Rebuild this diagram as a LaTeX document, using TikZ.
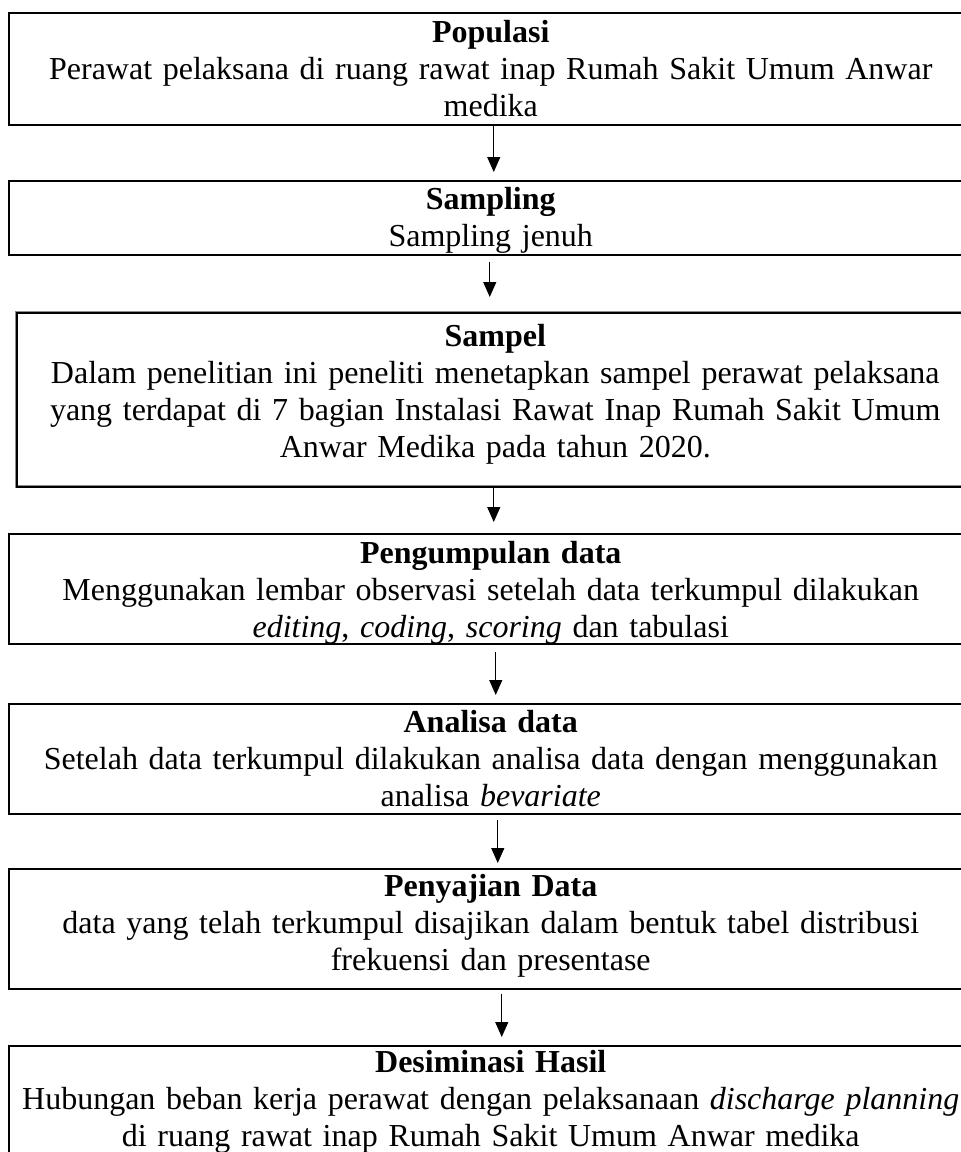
\documentclass[tikz,border=0pt]{standalone}
\usepackage{fontspec}
\setmainfont{Liberation Serif}
\usetikzlibrary{arrows.meta}
\begin{document}
\begin{tikzpicture}[x=0.5pt,y=-0.5pt,
  box/.style={draw, line width=0.75pt, inner xsep=0pt, inner ysep=0pt,
    text width=482pt, align=center, anchor=north west,
    font=\fontsize{16}{18.4}\selectfont},
  shadowbox/.style={box, text width=478.5pt,
    preaction={draw=black!45, line width=1.6pt}},
  arr/.style={line width=0.6pt, -{Triangle[length=7.5pt,width=6.5pt]}}]
\useasboundingbox (0,0) rectangle (961,1152);
\clip (0,0) rectangle (961,1152);

\node[box, text height=15pt, text depth=41pt] (b1) at (8,12)
  {\textbf{Populasi}\\Perawat pelaksana di ruang rawat inap Rumah Sakit Umum Anwar\\medika};
\node[box, text height=14.5pt, text depth=22.5pt] (b2) at (8,180)
  {\textbf{Sampling}\\Sampling jenuh};
\node[shadowbox, text height=17pt, text depth=70pt] (b3) at (16,312)
  {\textbf{Sampel}\\Dalam penelitian ini peneliti menetapkan sampel perawat pelaksana\\yang terdapat di 7 bagian Instalasi Rawat Inap Rumah Sakit Umum\\Anwar Medika pada tahun 2020.};
\node[box, text height=15pt, text depth=40pt] (b4) at (8,533)
  {\textbf{Pengumpulan data}\\Menggunakan lembar observasi setelah data terkumpul dilakukan\\\textit{editing}, \textit{coding}, \textit{scoring} dan tabulasi};
\node[box, text height=14.5pt, text depth=40.5pt] (b5) at (8,703)
  {\textbf{Analisa data}\\Setelah data terkumpul dilakukan analisa data dengan menggunakan\\analisa \textit{bevariate}};
\node[box, text height=14pt, text depth=46pt] (b6) at (8,868)
  {\textbf{Penyajian Data}\\data yang telah terkumpul disajikan dalam bentuk tabel distribusi\\frekuensi dan presentase};
\node[box, text height=13.5pt, text depth=43pt] (b7) at (8,1045)
  {\textbf{Desiminasi Hasil}\\Hubungan beban kerja perawat dengan pelaksanaan \textit{discharge planning}\\di ruang rawat inap Rumah Sakit Umum Anwar medika};

\draw[arr, shorten >=4pt] ([xshift=1.5pt]b1.south) -- ([xshift=1.5pt]b1.south |- b2.north);
\draw[arr, shorten <=3pt, shorten >=7.5pt] ([xshift=-0.5pt]b2.south) -- ([xshift=-0.5pt]b2.south |- b3.north);
\draw[arr, shorten >=5.5pt] ([xshift=-0.75pt]b3.south) -- ([xshift=-0.75pt]b3.south |- b4.north);
\draw[arr, shorten <=3.5pt, shorten >=4pt] ([xshift=2.5pt]b4.south) -- ([xshift=2.5pt]b4.south |- b5.north);
\draw[arr, shorten <=2.5pt, shorten >=2.5pt] ([xshift=3.5pt]b5.south) -- ([xshift=3.5pt]b5.south |- b6.north);
\draw[arr, shorten <=2pt, shorten >=4pt] ([xshift=5.5pt]b6.south) -- ([xshift=5.5pt]b6.south |- b7.north);
\end{tikzpicture}
\end{document}
